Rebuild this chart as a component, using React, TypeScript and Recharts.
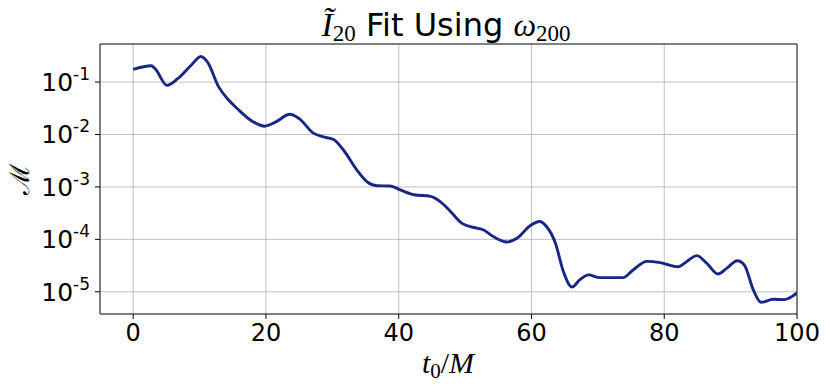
import { CartesianGrid, Line, LineChart, ReferenceArea, XAxis, YAxis } from 'recharts'

// t0/M sample positions
const tValues = [
  0, 2.7, 3.3, 5.1, 6.7, 8.7, 10.2, 11.2, 12.9, 14.2, 15.7, 17.7, 19.8, 21.5, 23.6, 25, 27.2, 28.7,
  30.2, 31.7, 33.7, 35.2, 36.7, 38.7, 40.3, 42.3, 44.8, 46.3, 47.8, 49.5, 50.8, 52.8, 54.3, 56.3,
  57.8, 59.8, 61.2, 62.3, 63.6, 64.8, 66.1, 67.3, 68.6, 70.3, 72.3, 73.8, 75.3, 77.4, 79.4, 82.1,
  83.4, 84.9, 86.4, 88.1, 89.4, 91, 92.1, 93.4, 94.6, 96.4, 98.1, 100,
]

// mismatch values
const mismatch = [
  0.175, 0.205, 0.18, 0.0865, 0.116, 0.207, 0.308, 0.24, 0.08, 0.048, 0.031, 0.0187, 0.0144, 0.0174,
  0.0243, 0.0201, 0.0105, 0.009, 0.008, 0.005, 0.0021, 0.00126, 0.00105, 0.00104, 0.00087, 0.00071,
  0.00066, 0.00052, 0.00034, 0.000204, 0.000174, 0.000151, 0.000112, 0.000089, 0.000105, 0.000182,
  0.000219, 0.000174, 0.000085, 0.0000245, 0.0000123, 0.000017, 0.000021, 0.0000186, 0.0000186,
  0.0000186, 0.000026, 0.000038, 0.000036, 0.00003, 0.000038, 0.000049, 0.000035, 0.0000219,
  0.000028, 0.000039, 0.000032, 0.000011, 0.0000063, 0.0000072, 0.0000071, 0.0000095,
]

const xTicks = [0, 20, 40, 60, 80, 100]
const yTicks = [1e-5, 1e-4, 1e-3, 1e-2, 1e-1]
const yExponents = ['-5', '-4', '-3', '-2', '-1']

const xDomain: [number, number] = [-5, 100]
const yDomain: [number, number] = [3.77e-6, 0.532]

const data = tValues.map((t, i) => ({ t, m: mismatch[i] }))

const sans = "'DejaVu Sans', sans-serif"
const serif = "'Liberation Serif', 'DejaVu Serif', serif"

function XTick({ x, y, payload }: any) {
  return (
    <text x={x} y={y + 20} fill="#000" fontFamily={sans} fontSize={24} textAnchor="middle">
      {payload.value}
    </text>
  )
}

function YTick({ x, y, payload }: any) {
  const idx = yTicks.findIndex((v) => Math.abs(v - payload.value) / v < 1e-6)
  return (
    <text x={x} y={y + 9} fill="#000" fontFamily={sans} textAnchor="end">
      <tspan fontSize={25}>10</tspan>
      <tspan fontSize={17} dy={-11}>
        {yExponents[idx]}
      </tspan>
    </text>
  )
}

export default function App() {
  return (
    <div style={{ position: 'absolute', left: 0, top: 0, width: 830, height: 387, background: '#fff' }}>
      <LineChart width={830} height={387} data={data} margin={{ top: 44, right: 33, left: 10, bottom: 43 }}>
        <CartesianGrid stroke="#b0b0b0" strokeWidth={0.8} />
        <XAxis
          dataKey="t"
          type="number"
          domain={xDomain}
          ticks={xTicks}
          allowDataOverflow
          axisLine={false}
          tickLine={{ stroke: '#000' }}
          tickSize={5}
          height={30}
          tick={<XTick />}
        />
        <YAxis
          scale="log"
          type="number"
          domain={yDomain}
          ticks={yTicks}
          allowDataOverflow
          axisLine={false}
          tickLine={{ stroke: '#000' }}
          tickSize={5}
          tickMargin={5}
          width={90}
          tick={<YTick />}
        />
        <ReferenceArea
          x1={xDomain[0]}
          x2={xDomain[1]}
          y1={yDomain[0]}
          y2={yDomain[1]}
          fill="none"
          fillOpacity={0}
          stroke="#222"
          strokeWidth={1}
          ifOverflow="visible"
        />
        <Line
          type="monotone"
          dataKey="m"
          stroke="#172783"
          strokeWidth={2.9}
          dot={false}
          isAnimationActive={false}
        />
      </LineChart>
      <svg width={830} height={387} style={{ position: 'absolute', left: 0, top: 0, pointerEvents: 'none' }}>
        <text x={446} y={36} textAnchor="middle" fill="#000">
          <tspan fontFamily={serif} fontStyle="italic" fontSize={34}>
            Ĩ
          </tspan>
          <tspan fontFamily={serif} fontSize={23} dy={5}>
            20
          </tspan>
          <tspan fontFamily={sans} fontSize={32} dy={-5}>
            {' Fit Using '}
          </tspan>
          <tspan fontFamily={serif} fontStyle="italic" fontSize={32}>
            ω
          </tspan>
          <tspan fontFamily={serif} fontSize={23} dy={5}>
            200
          </tspan>
        </text>
        <text x={448} y={373} textAnchor="middle" fill="#000" fontFamily={serif} fontSize={30}>
          <tspan fontStyle="italic">t</tspan>
          <tspan fontSize={21} dy={5}>
            0
          </tspan>
          <tspan dy={-5}>/</tspan>
          <tspan fontStyle="italic">M</tspan>
        </text>
        <text
          x={20}
          y={179}
          transform="rotate(-90 20 179)"
          textAnchor="middle"
          dominantBaseline="central"
          fill="#000"
          fontFamily={serif}
          fontSize={27}
        >
          ℳ
        </text>
      </svg>
    </div>
  )
}
